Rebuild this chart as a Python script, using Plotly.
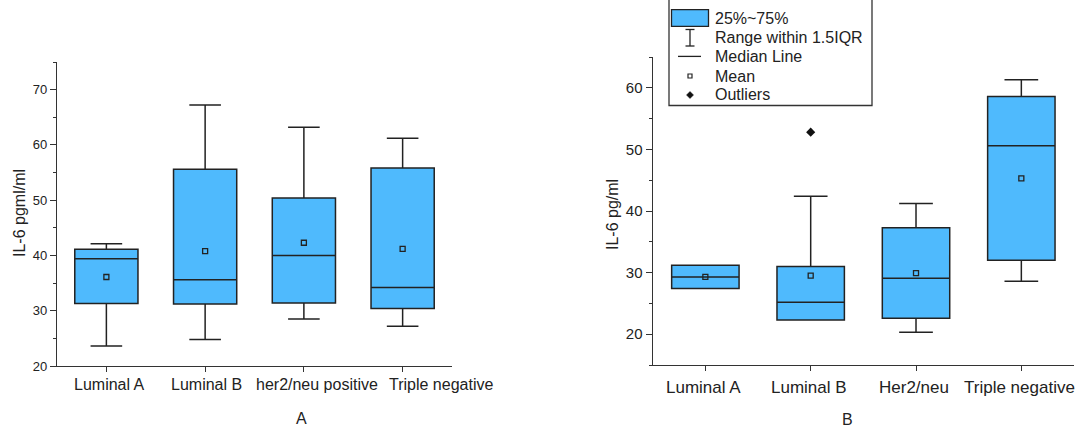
import plotly.graph_objects as go

# ---------------- data ----------------
cats_a = ["Luminal A", "Luminal B", "her2/neu positive", "Triple negative"]
low_a = [23.6, 24.8, 28.5, 27.2]
q1_a = [31.3, 31.2, 31.4, 30.4]
med_a = [39.4, 35.6, 40.0, 34.2]
q3_a = [41.1, 55.6, 50.4, 55.8]
high_a = [42.1, 67.2, 63.2, 61.2]
mean_a = [36.1, 40.8, 42.3, 41.2]

cats_b = ["Luminal A", "Luminal B", "Her2/neu", "Triple negative"]
low_b = [27.4, 22.3, 20.3, 28.6]
q1_b = [27.4, 22.3, 22.6, 32.0]
med_b = [29.3, 25.2, 29.1, 50.6]
q3_b = [31.2, 31.0, 37.3, 58.6]
high_b = [31.2, 42.4, 41.2, 61.3]
mean_b = [29.3, 29.5, 29.9, 45.3]
outlier_cat_b = ["Luminal B"]
outlier_val_b = [52.8]

legend_labels = ["25%~75%", "Range within 1.5IQR", "Median Line", "Mean", "Outliers"]

# ---------------- style ----------------
W, H = 1078, 430
FONT = "Liberation Sans, Arial, sans-serif"
BLUE = "#4FBAFD"
DARK = "#222222"
AX = "#333333"
# horizontal nudges (px) of the category labels, as laid out in the source figure
label_shift_a = [3, 1, 13, 38]
label_shift_b = [-2, -2, -2, -2]


def px(x, y):
    return x / W, 1 - y / H


fig = go.Figure()

fig.add_trace(go.Box(
    x=cats_a, q1=q1_a, median=med_a, q3=q3_a, lowerfence=low_a, upperfence=high_a,
    boxpoints=False, width=0.64, whiskerwidth=0.5, fillcolor=BLUE,
    line=dict(color=DARK, width=1.5), xaxis="x", yaxis="y", showlegend=False,
    hoverinfo="skip"))
fig.add_trace(go.Scatter(
    x=cats_a, y=mean_a, mode="markers", xaxis="x", yaxis="y", showlegend=False,
    marker=dict(symbol="square-open", size=5, color=DARK, line=dict(width=1.3))))

fig.add_trace(go.Box(
    x=cats_b, q1=q1_b, median=med_b, q3=q3_b, lowerfence=low_b, upperfence=high_b,
    boxpoints=False, width=0.64, whiskerwidth=0.5, fillcolor=BLUE,
    line=dict(color=DARK, width=1.5), xaxis="x2", yaxis="y2", showlegend=False,
    hoverinfo="skip"))
fig.add_trace(go.Scatter(
    x=cats_b, y=mean_b, mode="markers", xaxis="x2", yaxis="y2", showlegend=False,
    marker=dict(symbol="square-open", size=5, color=DARK, line=dict(width=1.3))))
fig.add_trace(go.Scatter(
    x=outlier_cat_b, y=outlier_val_b, mode="markers", xaxis="x2", yaxis="y2",
    showlegend=False, marker=dict(symbol="diamond", size=7, color="#111111")))

xcommon = dict(type="category", range=[-0.5, 3.5], showline=True, linecolor=AX,
               linewidth=1.4, ticks="outside", ticklen=5, tickwidth=1.3,
               tickcolor=AX, showgrid=False, zeroline=False, automargin=False,
               showticklabels=False)
ycommon = dict(showline=True, linecolor=AX, linewidth=1.4, ticks="outside",
               ticklen=6, tickwidth=1.3, tickcolor=AX, showgrid=False,
               zeroline=False, tickmode="linear", tick0=0, dtick=10,
               automargin=False,
               minor=dict(ticks="outside", ticklen=3, dtick=5, tick0=0,
                          tickcolor=AX, tickwidth=1.2))

fig.update_layout(
    width=W, height=H, margin=dict(l=0, r=0, t=0, b=0, autoexpand=False),
    paper_bgcolor="white", plot_bgcolor="white",
    font=dict(family=FONT, color="#222222"),
    xaxis=dict(domain=[57 / W, 452 / W], anchor="y", **xcommon),
    yaxis=dict(domain=[1 - 366 / H, 1 - 62 / H], anchor="x", range=[20, 75],
               tickfont=dict(size=13), **ycommon),
    xaxis2=dict(domain=[652.7 / W, 1074 / W], anchor="y2", **xcommon),
    yaxis2=dict(domain=[1 - 365 / H, 1 - 57 / H], anchor="x2", range=[15, 65],
                tickfont=dict(size=15), **ycommon),
)

ann = []


def text(xx, yy, s, size=16, angle=0, xanchor="center"):
    a, b = px(xx, yy)
    ann.append(dict(x=a, y=b, text=s, textangle=angle, showarrow=False,
                    xref="paper", yref="paper", xanchor=xanchor, yanchor="middle",
                    font=dict(size=size)))


text(19, 213, "IL-6 pgml/ml", angle=-90)
text(612, 215, "IL-6 pg/ml", angle=-90)
text(301, 418, "A")
text(848, 419, "B")

# category labels, placed on the category axis positions
for c, sh in zip(cats_a, label_shift_a):
    ann.append(dict(x=c, xref="x", y=px(0, 384.5)[1], yref="paper", text=c,
                    showarrow=False, xanchor="center", yanchor="middle", xshift=sh,
                    font=dict(size=16)))
for c, sh in zip(cats_b, label_shift_b):
    ann.append(dict(x=c, xref="x2", y=px(0, 387)[1], yref="paper", text=c,
                    showarrow=False, xanchor="center", yanchor="middle", xshift=sh,
                    font=dict(size=17)))

# legend (manual, Origin style)
rows = [18.3, 38, 56.4, 76, 95]
for lab, ry in zip(legend_labels, rows):
    text(713, ry, lab, xanchor="left")
fig.update_layout(annotations=ann)

shapes = []


def rect(x0, y0, x1, y1, **kw):
    a, b = px(x0, y0)
    c, d = px(x1, y1)
    shapes.append(dict(type="rect", xref="paper", yref="paper", x0=a, y0=b, x1=c, y1=d, **kw))


def line(x0, y0, x1, y1, color=DARK, width=1.3):
    a, b = px(x0, y0)
    c, d = px(x1, y1)
    shapes.append(dict(type="line", xref="paper", yref="paper", x0=a, y0=b, x1=c, y1=d,
                       line=dict(color=color, width=width)))


def path(pts, **kw):
    s = ""
    for i, (xx, yy) in enumerate(pts):
        a, b = px(xx, yy)
        s += ("M" if i == 0 else "L") + f"{a},{b} "
    s += "Z"
    shapes.append(dict(type="path", xref="paper", yref="paper", path=s, **kw))


# legend frame
rect(669, -5, 872, 105.5, line=dict(color=AX, width=1.3), fillcolor="rgba(0,0,0,0)")
# box glyph
rect(671.5, 9.7, 708.5, 26.3, line=dict(color=DARK, width=1.3), fillcolor=BLUE)
# whisker glyph
line(690, 29.5, 690, 46)
line(685.5, 29.5, 694.5, 29.5)
line(685.5, 46, 694.5, 46)
# median glyph
line(678, 56.4, 701, 56.4)
# mean glyph
rect(688, 74, 692, 78, line=dict(color=DARK, width=1.2), fillcolor="white")
# outlier glyph
path([(690, 91.5), (693.5, 95), (690, 98.5), (686.5, 95)],
     line=dict(color="#111111", width=0.5), fillcolor="#111111")
fig.update_layout(shapes=shapes)

fig.write_html("out.html", config={"displayModeBar": False},
               post_script="document.body.style.margin='0';"
                           "document.body.style.overflow='hidden';")
